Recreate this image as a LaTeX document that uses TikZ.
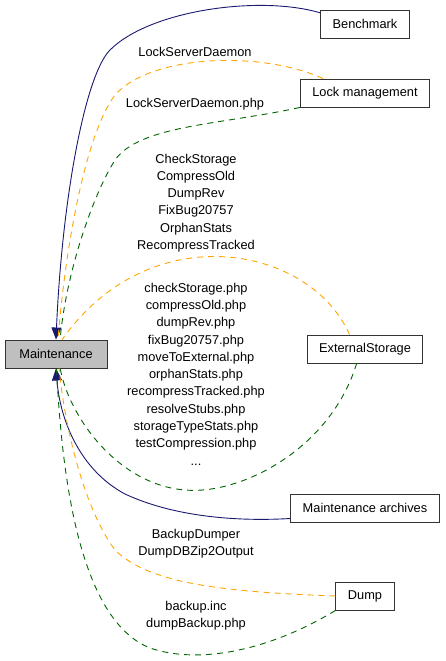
\documentclass[tikz,border=0pt]{standalone}
\usepackage{fontspec}
\setmainfont{Liberation Sans}
\usetikzlibrary{arrows.meta}
\definecolor{edgenavy}{HTML}{191970}
\definecolor{edgeorange}{HTML}{FFA500}
\definecolor{edgegreen}{HTML}{006400}
\definecolor{boxgray}{HTML}{BFBFBF}

\begin{document}
\begin{tikzpicture}[x=1pt,y=-1pt,
  every node/.style={font=\fontsize{12.8}{17.3}\selectfont},
  group/.style={draw=black!80,line width=0.9pt,inner xsep=12pt,minimum height=28pt,fill=white},
  uses/.style={edgenavy,line width=0.9pt,-{Triangle[length=12pt,width=10pt]}},
  classes/.style={edgeorange,line width=0.9pt,dash pattern=on 6pt off 5pt},
  files/.style={edgegreen,line width=0.9pt,dash pattern=on 6pt off 5pt},
  lbl/.style={align=center,inner sep=0pt}]
\useasboundingbox (0,0) rectangle (445,661);
\node[group,fill=boxgray,minimum width=102pt] (maint) at (56,354) {Maintenance};
\node[group] (bench) at (365,24) {Benchmark};
\node[group] (lockm) at (365,93) {Lock management};
\node[group] (ext) at (365,349) {ExternalStorage};
\node[group] (arch) at (365,508) {Maintenance archives};
\node[group] (dump) at (365,596) {Dump};
% labels
\node[lbl] (l1) at (195,52) {LockServerDaemon};
\node[lbl] (l2) at (195,104) {LockServerDaemon.php};
\node[lbl] (l3) at (196,203) {CheckStorage\\CompressOld\\DumpRev\\FixBug20757\\OrphanStats\\RecompressTracked};
\node[lbl] (l4) at (196,374) {checkStorage.php\\compressOld.php\\dumpRev.php\\fixBug20757.php\\moveToExternal.php\\orphanStats.php\\recompressTracked.php\\resolveStubs.php\\storageTypeStats.php\\testCompression.php\\...};
\node[lbl] (l5) at (196,543.5) {BackupDumper\\DumpDBZip2Output};
\node[lbl] (l6) at (196,615.5) {backup.inc\\dumpBackup.php};
% edges
\draw[uses] (bench.166) .. controls (260,-5) and (150,10) .. (110,50) .. controls (85,75) and (62,200) .. (maint.north);
\draw[classes] (lockm.161) .. controls (260,50) and (150,55) .. (115,95) .. controls (85,135) and (65,250) .. (maint.82);
\draw[files] (lockm.south west) .. controls (220,125) and (140,125) .. (115,160) .. controls (90,200) and (65,280) .. (maint.74);
\draw[classes] (ext.137) .. controls (310,245) and (150,215) .. (maint.67);
\draw[files] (ext.240) .. controls (330,450) and (240,495) .. (185,490) .. controls (120,485) and (70,420) .. (maint.286);
\draw[uses] (arch.188) .. controls (230,522) and (170,515) .. (125,494) .. controls (80,470) and (60,420) .. (maint.south);
\draw[classes] (dump.west) .. controls (230,592) and (150,585) .. (115,550) .. controls (85,510) and (65,430) .. (maint.282);
\draw[files] (dump.south west) .. controls (270,650) and (200,665) .. (150,648) .. controls (80,620) and (62,480) .. (maint.272);
\end{tikzpicture}
\end{document}
